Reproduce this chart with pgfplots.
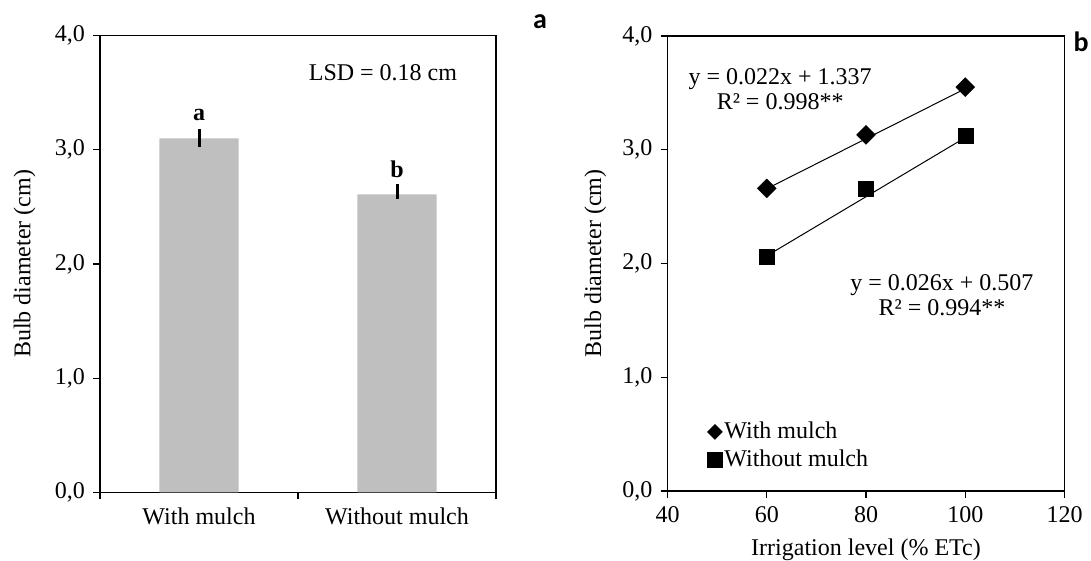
\documentclass[border=0pt]{standalone}
\usepackage{fontspec}
\setmainfont{Liberation Serif}
\newfontfamily\panelfont{Carlito}
\usepackage{pgfplots}
\pgfplotsset{compat=1.18}
\definecolor{bargray}{HTML}{BFBFBF}
\begin{document}
\fontsize{24}{28}\selectfont
\begin{tikzpicture}
\useasboundingbox (0pt,0pt) rectangle (1091pt,561pt);
\pgfplotsset{
  every axis/.append style={
    scale only axis,
    font=\fontsize{24}{28}\selectfont,
    axis line style={line width=1.2pt},
    tick style={line width=1.2pt, black},
    tick align=outside,
    major tick length=7pt,
    minor tick length=7pt,
    ytick pos=left, xtick pos=bottom,
    /pgf/number format/assume math mode=true,
    yticklabel style={/pgf/number format/.cd, fixed, fixed zerofill, precision=1, use comma},
  }
}
% ---------- panel a ----------
\begin{axis}[at={(100pt,68.5pt)}, anchor=south west, width=396pt, height=457pt,
  xmin=-0.5, xmax=1.5, ymin=0, ymax=4, ytick={0,1,2,3,4},
  xtick={0,1}, xticklabels={With mulch, Without mulch},
  major x tick style={draw=none},
  minor xtick={-0.5,0.5,1.5},
  ylabel={Bulb diameter (cm)},
  ylabel style={xshift=0pt, yshift=3pt},
]
\addplot[ybar, bar width=0.4, fill=bargray, draw=none,
  error bars/.cd, y dir=both, y explicit, error mark=none,
  error bar style={line width=3pt, black}]
  coordinates {(0,3.10) += (0,0.08) -= (0,0.08) (1,2.61) += (0,0.09) -= (0,0.04)};
\node[anchor=base, font=\bfseries\fontsize{24}{28}\selectfont] at (axis cs:0,3.26) {a};
\node[anchor=base, font=\bfseries\fontsize{24}{28}\selectfont] at (axis cs:1,2.76) {b};
\node at (axis cs:0.929,3.674) {LSD = 0.18 cm};
\end{axis}
% ---------- panel b ----------
\begin{axis}[at={(667.5pt,70pt)}, anchor=south west, width=397pt, height=455pt,
  xmin=40, xmax=120, ymin=0, ymax=4, ytick={0,1,2,3,4},
  xtick={40,60,80,100,120},
  xlabel={Irrigation level (\% ETc)},
  ylabel={Bulb diameter (cm)},
  legend style={at={(0.1,0.157)}, anchor=north west, draw=none, fill=none,
    font=\fontsize{24}{28}\selectfont, row sep=4pt, inner sep=0pt},
  legend cell align=left,
]
\addplot[only marks, mark=square*, mark options={rotate=45, black}, mark size=6.7pt,
  legend image post style={mark size=5.3pt}]
  coordinates {(60,2.66) (80,3.13) (100,3.55)};
\addlegendentry{With mulch}
\addplot[only marks, mark=square*, mark options={black}, mark size=7.5pt]
  coordinates {(60,2.06) (80,2.66) (100,3.12)};
\addlegendentry{Without mulch}
\addplot[black, line width=1pt, forget plot] coordinates {(60,2.657) (100,3.537)};
\addplot[black, line width=1pt, forget plot] coordinates {(60,2.067) (100,3.107)};
\node[align=center, font=\fontsize{24}{25}\selectfont] at (axis cs:62.7,3.53) {y = 0.022x + 1.337\\R² = 0.998**};
\node[align=center, font=\fontsize{24}{25}\selectfont] at (axis cs:95.3,1.72) {y = 0.026x + 0.507\\R² = 0.994**};
\end{axis}
\node[font=\panelfont\bfseries\fontsize{28}{30}\selectfont] at (540pt,539pt) {a};
\node[font=\panelfont\bfseries\fontsize{28}{30}\selectfont] at (1081pt,519pt) {b};
\end{tikzpicture}
\end{document}
